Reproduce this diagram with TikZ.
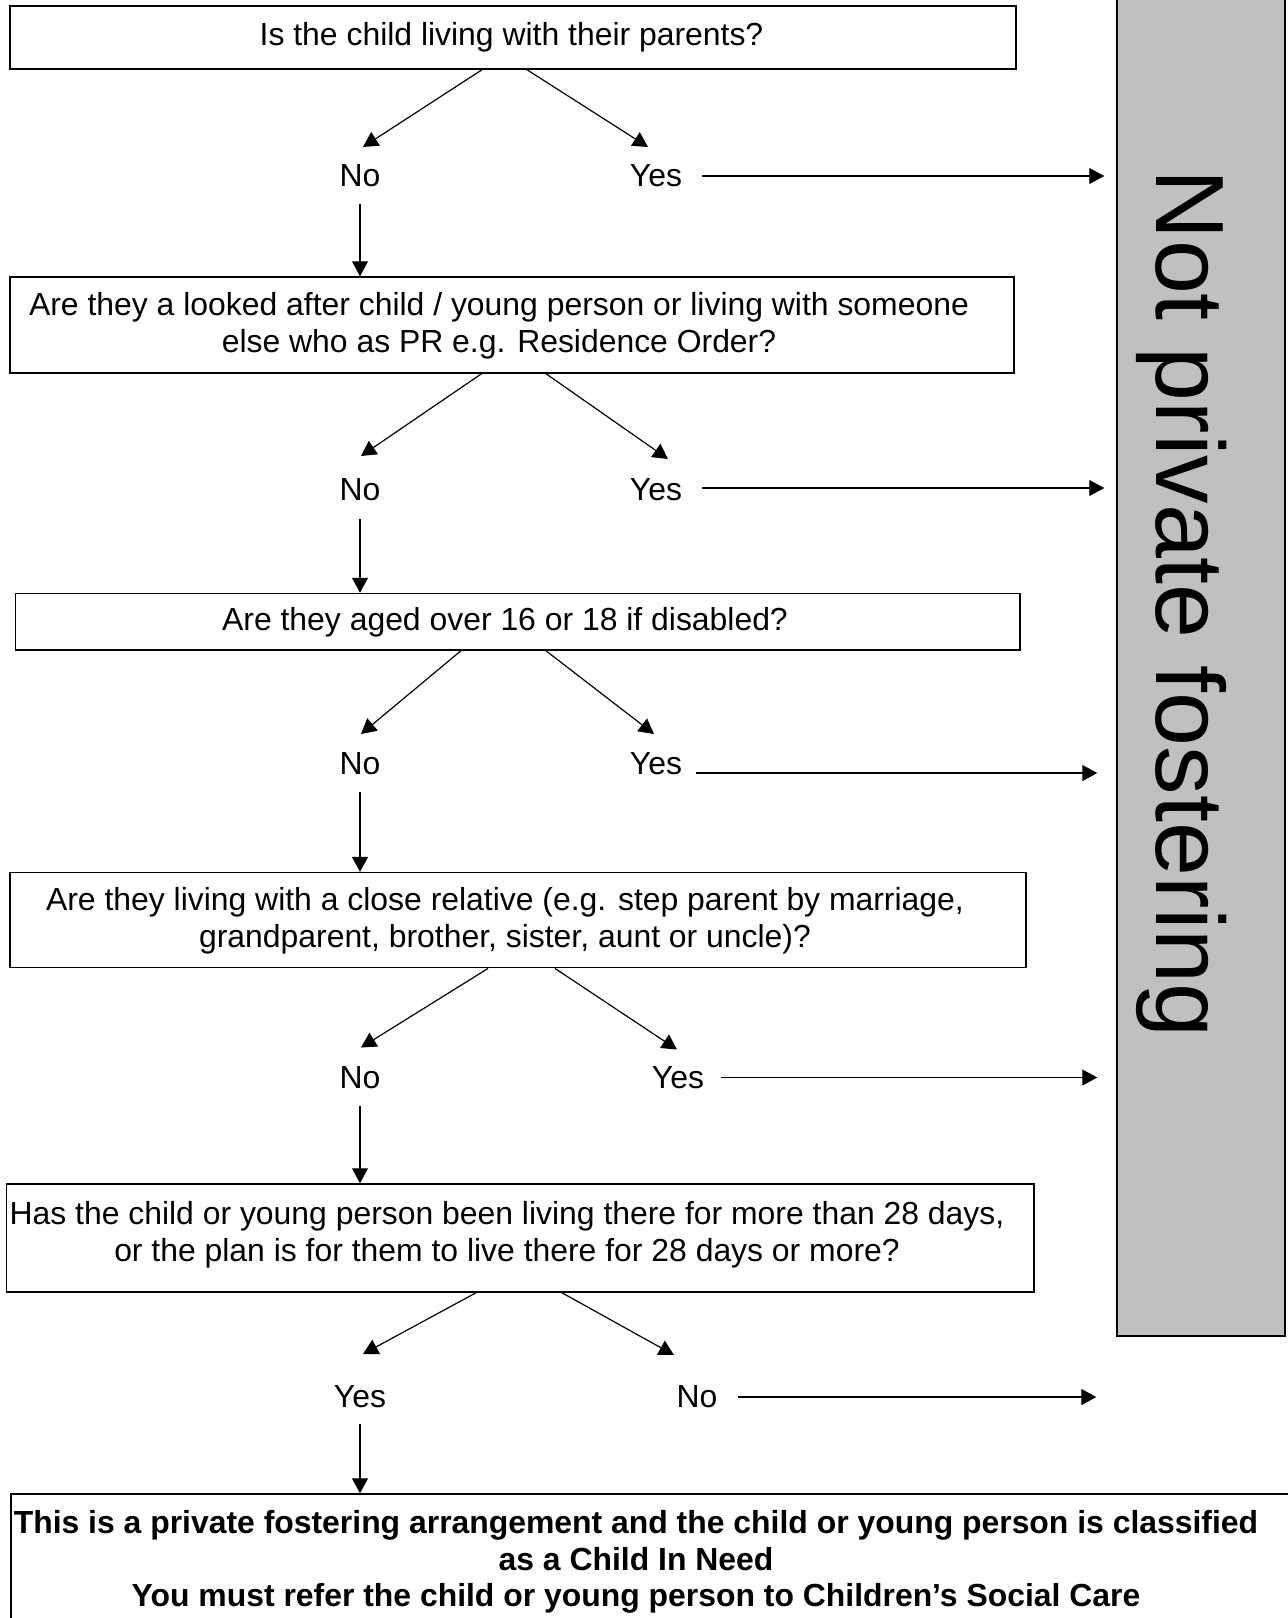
\documentclass[tikz,border=0pt]{standalone}
\usepackage{fontspec}
\setmainfont{Liberation Sans}
\usetikzlibrary{arrows.meta}
\newcommand\qfont{\fontsize{15.95pt}{18.4pt}\selectfont}
\newcommand\qbfont{\fontsize{15.95pt}{18.2pt}\selectfont\bfseries}
\newcommand\nffont{\fontsize{48.5pt}{56pt}\selectfont}
\definecolor{nfgrey}{HTML}{C0C0C0}
\begin{document}
\begin{tikzpicture}[x=0.5pt,y=-0.5pt,
  box/.style={draw, line width=0.75pt, inner sep=0pt},
  qtext/.style={font=\qfont, align=center, inner sep=0pt},
  btext/.style={font=\qbfont, align=center, inner sep=0pt},
  lab/.style={font=\qfont, inner sep=0pt},
  arr/.style={-{Triangle[length=7.5pt,width=8pt]}, line width=0.6pt},
]
\useasboundingbox (0,0) rectangle (1288,1618);
\clip (0,0) rectangle (1288,1618);

% grey side panel
\node[box, fill=nfgrey, minimum width=84pt, minimum height=673pt] (nf) at (1201,663) {};
\node[font=\nffont, inner sep=0pt, anchor=base, rotate=-90] (nft) at (1156,604) {Not private fostering};

% block 1
\node[box, minimum width=503pt, minimum height=31.5pt] (b1) at (513,37.5) {};
\node[qtext] (t1) at (511.5,37) {Is the child living with their parents?};
\node[lab] (no1) at (360,176) {No};
\node[lab] (yes1) at (656,176) {Yes};
\coordinate (n1tip) at (363,147);
\coordinate (y1tip) at (648,147);
\draw[arr] ([xshift=-15.5pt]b1.south) -- (n1tip);
\draw[arr] ([xshift=7pt]b1.south) -- (y1tip);
\draw[arr] ([xshift=9.75pt]yes1.east) -- ([xshift=-6pt]nf.west |- yes1.east);

% block 2
\node[box, minimum width=502pt, minimum height=48pt] (b2) at (512,325) {};
\draw[arr] ([yshift=-8.25pt]no1.south) -- (no1.south |- b2.north);
\node[qtext] (t2) at (499,325.5) {Are they a looked after child / young person or living with someone\\else who as PR e.g. Residence Order?};
\node[lab] (no2) at (360,490) {No};
\node[lab] (yes2) at (656,490) {Yes};
\coordinate (n2tip) at (361,456);
\coordinate (y2tip) at (668,459);
\draw[arr] ([xshift=-15.25pt]b2.south) -- (n2tip);
\draw[arr] ([xshift=17pt]b2.south) -- (y2tip);
\draw[arr] ([xshift=9.75pt,yshift=1pt]yes2.east) -- ([xshift=-6pt,yshift=1pt]nf.west |- yes2.east);

% block 3
\node[box, minimum width=502.25pt, minimum height=28.25pt] (b3) at (517.75,621.75) {};
\draw[arr] ([yshift=-8.5pt]no2.south) -- (no2.south |- b3.north);
\node[qtext] (t3) at (505,622) {Are they aged over 16 or 18 if disabled?};
\node[lab] (no3) at (360,764) {No};
\node[lab] (yes3) at (656,764) {Yes};
\coordinate (n3tip) at (361,734);
\coordinate (y3tip) at (654,734);
\draw[arr] ([xshift=-28.4pt]b3.south) -- (n3tip);
\draw[arr] ([xshift=14.1pt]b3.south) -- (y3tip);
\draw[arr] ([xshift=6.75pt,yshift=-4.5pt]yes3.east) -- ([xshift=-9.5pt,yshift=-4.5pt]nf.west |- yes3.east);

% block 4
\node[box, minimum width=508pt, minimum height=47.5pt] (b4) at (518,920.2) {};
\draw[arr] ([yshift=-8.25pt]no3.south) -- (no3.south |- b4.north);
\node[qtext] (t4) at (505,921) {Are they living with a close relative (e.g. step parent by marriage,\\grandparent, brother, sister, aunt or uncle)?};
\node[lab] (no4) at (360,1077.5) {No};
\node[lab] (yes4) at (678,1077.5) {Yes};
\coordinate (n4tip) at (361,1047.5);
\coordinate (y4tip) at (677,1049.5);
\draw[arr] ([xshift=-15pt]b4.south) -- (n4tip);
\draw[arr] ([xshift=18.5pt]b4.south) -- (y4tip);
\draw[arr] ([xshift=8.25pt]yes4.east) -- ([xshift=-9.5pt]nf.west |- yes4.east);

% block 5
\node[box, minimum width=513.7pt, minimum height=54pt] (b5) at (520.3,1238) {};
\draw[arr] ([yshift=-8.5pt]no4.south) -- (no4.south |- b5.north);
\node[qtext] (t5) at (507,1235) {Has the child or young person been living there for more than 28 days,\\or the plan is for them to live there for 28 days or more?};
\node[lab] (yes5) at (360,1397) {Yes};
\node[lab] (no5) at (697,1397) {No};
\coordinate (y5tip) at (363,1354);
\coordinate (n5tip) at (674,1355);
\draw[arr] ([xshift=-22.15pt]b5.south) -- (y5tip);
\draw[arr] ([xshift=20.85pt]b5.south) -- (n5tip);
\draw[arr] ([xshift=10.3pt]no5.east) -- ([xshift=-10pt]nf.west |- no5.east);

% block 6
\node[box, minimum width=644.5pt, minimum height=73pt] (b6) at (655.5,1567) {};
\draw[arr] ([yshift=-7.75pt]yes5.south) -- (yes5.south |- b6.north);
\node[btext] (t6) at (636,1562) {This is a private fostering arrangement and the child or young person is classified\\as a Child In Need\\You must refer the child or young person to Children’s Social Care};
\end{tikzpicture}
\end{document}
